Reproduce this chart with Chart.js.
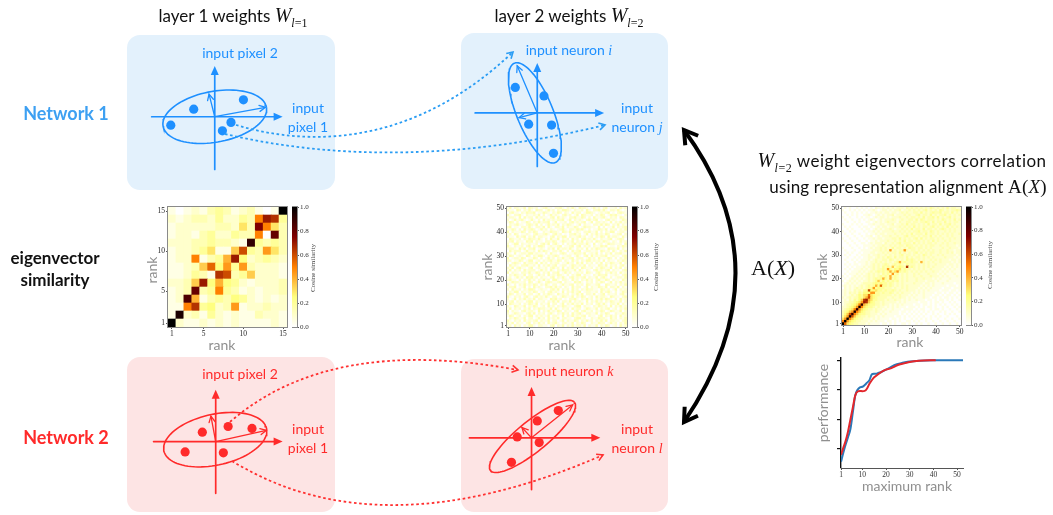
<!DOCTYPE html>
<html>
<head>
<meta charset="utf-8">
<script src="https://cdn.jsdelivr.net/npm/chart.js@4.4.1/dist/chart.umd.min.js"></script>
<style>
  body { margin: 0; background: #fff; }
  #fig { position: relative; width: 1053px; height: 515px; overflow: hidden; font-family: Lato, sans-serif; color: #111; }
  .box { position: absolute; border-radius: 13px; }
  .blue { background: #e3f1fc; }
  .red { background: #fde4e4; }
  canvas { position: absolute; }
  .t { position: absolute; transform: translate(-50%, -50%); white-space: nowrap; line-height: 1; }
  .lab { font-size: 14px; text-align: center; line-height: 19px; }
  .cb { color: #1e90ff; }
  .cr { color: #ff2a2a; }
  .m { font-family: "Liberation Serif", serif; font-style: italic; }
  .W { font-family: "Liberation Serif", serif; font-style: italic; font-size: 20px; }
  sub { font-family: "Liberation Serif", serif; font-size: 12px; vertical-align: -5px; line-height: 0; }
  .rk { font-size: 14px; color: #8f8f8f; }
  .rot { transform: translate(-50%, -50%) rotate(-90deg); }
  .cos { font-family: "Liberation Serif", serif; font-size: 7px; color: #444; }
  .net { font-weight: 700; font-size: 18px; }
</style>
</head>
<body>
<div id="fig">
  <div class="box blue" style="left:127px;top:35px;width:208px;height:155px"></div>
  <div class="box blue" style="left:461px;top:33px;width:207px;height:156px"></div>
  <div class="box red" style="left:127px;top:357px;width:208px;height:155px"></div>
  <div class="box red" style="left:461px;top:359px;width:207px;height:153px"></div>

  <canvas id="d1"></canvas>
  <canvas id="d2"></canvas>
  <canvas id="d3"></canvas>
  <canvas id="d4"></canvas>
  <canvas id="h1"></canvas>
  <canvas id="h2"></canvas>
  <canvas id="h3"></canvas>
  <canvas id="c1"></canvas>
  <canvas id="c2"></canvas>
  <canvas id="c3"></canvas>
  <canvas id="perf"></canvas>

  <svg width="1053" height="515" style="position:absolute;left:0;top:0">
    <defs>
      <marker id="hb" markerWidth="10" markerHeight="10" refX="7" refY="5" orient="auto" markerUnits="userSpaceOnUse">
        <path d="M1,1.5 L7,5 L1,8.5" fill="none" stroke="#2a9df4" stroke-width="1.6"/>
      </marker>
      <marker id="hr" markerWidth="10" markerHeight="10" refX="7" refY="5" orient="auto" markerUnits="userSpaceOnUse">
        <path d="M1,1.5 L7,5 L1,8.5" fill="none" stroke="#ff3030" stroke-width="1.6"/>
      </marker>
      <marker id="hk" markerWidth="22" markerHeight="22" refX="16" refY="11" orient="auto-start-reverse" markerUnits="userSpaceOnUse">
        <path d="M3,3 L16,11 L3,19" fill="none" stroke="#000" stroke-width="4"/>
      </marker>
    </defs>
    <path d="M236,125 C320,150 420,140 513,52" fill="none" stroke="#2a9df4" stroke-width="1.8" stroke-dasharray="2.6 2.6" marker-end="url(#hb)"/>
    <path d="M225,134 Q400,175 605,125" fill="none" stroke="#2a9df4" stroke-width="1.8" stroke-dasharray="2.6 2.6" marker-end="url(#hb)"/>
    <path d="M230,422 Q330,335 518,370" fill="none" stroke="#ff3030" stroke-width="1.8" stroke-dasharray="2.6 2.6" marker-end="url(#hr)"/>
    <path d="M232,461 Q380,552 603,455" fill="none" stroke="#ff3030" stroke-width="1.8" stroke-dasharray="2.6 2.6" marker-end="url(#hr)"/>
    <path d="M684,130 Q787,270 684,422" fill="none" stroke="#000" stroke-width="4" marker-start="url(#hk)" marker-end="url(#hk)"/>
  </svg>

  <div class="t" style="left:233px;top:15px;font-size:17px">layer 1 weights <span class="W">W</span><sub><i>l</i>=1</sub></div>
  <div class="t" style="left:569px;top:15px;font-size:17px">layer 2 weights <span class="W">W</span><sub><i>l</i>=2</sub></div>

  <div class="t net" style="left:66px;top:113px;color:#3da0f2">Network 1</div>
  <div class="t net" style="left:66px;top:437px;color:#ff2a2a">Network 2</div>
  <div class="t" style="left:55px;top:269px;font-weight:700;font-size:17px;text-align:center;line-height:22px">eigenvector<br>similarity</div>

  <div class="t lab cb" style="left:240px;top:52px">input pixel 2</div>
  <div class="t lab cb" style="left:308px;top:117px">input<br>pixel 1</div>
  <div class="t lab cb" style="left:569px;top:50px">input neuron <span class="m">i</span></div>
  <div class="t lab cb" style="left:637px;top:117px">input<br>neuron <span class="m">j</span></div>
  <div class="t lab cr" style="left:240px;top:373px">input pixel 2</div>
  <div class="t lab cr" style="left:308px;top:438px">input<br>pixel 1</div>
  <div class="t lab cr" style="left:569px;top:371px">input neuron <span class="m">k</span></div>
  <div class="t lab cr" style="left:637px;top:438px">input<br>neuron <span class="m">l</span></div>

  <div class="t" style="left:902px;top:160px;font-size:17px;letter-spacing:0.5px"><span class="W">W</span><sub><i>l</i>=2</sub> weight eigenvectors correlation</div>
  <div class="t" style="left:908px;top:186px;font-size:17px;letter-spacing:0.15px">using representation alignment <span style="font-family:'Liberation Serif',serif;font-size:19px">A(<i>X</i>)</span></div>
  <div class="t" style="left:773px;top:268px;font-family:'Liberation Serif',serif;font-size:22px">A(<i>X</i>)</div>

  <div class="t rk" style="left:222px;top:345px">rank</div>
  <div class="t rk rot" style="left:152px;top:270px">rank</div>
  <div class="t rk" style="left:562px;top:345px">rank</div>
  <div class="t rk rot" style="left:487px;top:267px">rank</div>
  <div class="t rk" style="left:910px;top:342px">rank</div>
  <div class="t rk rot" style="left:822px;top:267px">rank</div>
  <div class="t rk rot" style="left:823px;top:403px">performance</div>
  <div class="t rk" style="left:907px;top:486px">maximum rank</div>

  <div class="t cos rot" style="left:313px;top:268px">Cosine similarity</div>
  <div class="t cos rot" style="left:656px;top:267px">Cosine similarity</div>
  <div class="t cos rot" style="left:990px;top:265px">Cosine similarity</div>
</div>

<script>
// ---- diagram data: px relative to the axis crossing, y pointing up ----
const net1L1Points = [[-46, -9], [-22, 8], [30, 18], [17, -6], [8, -15]];
const net1L1Vecs = [[53, 10], [-6, 24]];
const net1L1Ellipse = [0, 0, 55, 27, 10.7]; // cx, cy, a, b, angle
const net1L1Axes = [[-66, 71], [-56, 54]];

const net1L2Points = [[-23, 27], [7, 18], [-9, -12], [15, -13], [17, -43]];
const net1L2Vecs = [[-21, 50], [-19, -5]];
const net1L2Ellipse = [-2.5, 0, 57, 19, 112];
const net1L2Axes = [[-65, 70], [-57, 53]];

const net2L1Points = [[-32, -11], [-14, 10], [13, 16], [38, 14], [8, -12]];
const net2L1Vecs = [[53, 12], [-5, 27]];
const net2L1Ellipse = [-0.5, 2, 55, 27, 12.7];
const net2L1Axes = [[-65, 70], [-55, 55]];

const net2L2Points = [[-15, 1], [6, 18], [28, 29], [8, -5], [-21, -26]];
const net2L2Vecs = [[43, 35], [-10, 11]];
const net2L2Ellipse = [1, 1.5, 57, 16, 39.7];
const net2L2Axes = [[-65, 72], [-55, 54]];

// ---- similarity matrices: top row = highest rank; char -> parseInt(ch,36)/20 ----
const layer1Sim = [
  "10121343123101k",
  "21233242243aed4",
  "12222233263fa63",
  "12213422433a0g3",
  "2223343321i4343",
  "122346117c43963",
  "122a1348e523432",
  "11237b594932221",
  "112431dc3472221",
  "2237e5854212223",
  "123g34a43121223",
  "12h813435421212",
  "11ad45239122322",
  "1j2314212113221",
  "k21121212111121"
];

const layer2Sim = [
  "1302211303 2120123110 2231021310 3221013120 2301120312",
  "2110320213 1032201312 0213321021 1203102231 3102213101",
  "0231102132 2301132102 1320210312 2013321012 1230102321",
  "3102231021 1213020131 2102312013 0321120213 2013231102",
  "1221030312 2031211023 0312102231 1320203112 3102120321",
  "2013123101 3102031212 1223013021 2102312301 0231210132",
  "1320201132 0213122301 3011202312 1230130221 2103021312",
  "0212311023 2130201312 1302132101 3021102213 1320213021",
  "2301102213 1022130310 2213021132 0132211030 2011302123",
  "1132020312 3201312021 0123102213 2310201132 1302120213",
  "3021113202 1320021132 2103213012 1022311302 0213301221",
  "1203201121 0231123102 3120102231 2013021312 1320112302",
  "2110312302 1302211023 0213302112 3120120213 2031221031",
  "0321120213 2213102031 1302120312 0231213102 1123012320",
  "1230211032 3021102213 2013211302 1302120321 3210210312",
  "2013302112 1120231302 3102021231 2213103012 0132211203",
  "3102112023 0213320121 1230112302 3021202113 2301102132",
  "1221031302 2301210213 0312213102 1203021321 1032213021",
  "0312220131 1203132102 2131020312 3012211203 2120310213",
  "2103012213 3121102031 1023201132 2130121302 0213022311",
  "1320121032 0213310212 3201122013 1023031212 2301211023",
  "3012213201 1320201312 0213112302 2201312031 1132020213",
  "2201132013 3012021231 1320210312 0213312120 3021102132",
  "1023210312 2130312021 2201131203 1302120213 0213211302",
  "0312102231 1203021312 3012201321 2130211032 1302120231",
  "2130231102 3012112023 1203021312 0321120213 2113021302",
  "1302120312 2201312031 0213221130 3102102312 1230211023",
  "3021102213 1132021302 2301312012 1203210231 0213120312",
  "0213211302 2013120312 1321020213 3021102132 2301121023",
  "1201312032 3120211023 0213102312 1230211302 3102012213",
  "2311020213 1202131203 3102210312 0213120231 1320211032",
  "0132211203 2013102321 1230211032 3102120213 2013021312",
  "3102021312 1320213102 2013112302 1203211230 0321120213",
  "1223011302 0312102231 3120210312 2013021132 1302213021",
  "2031120213 3201211023 1302120312 0213221103 2120130212",
  "0213302112 1320120231 2103021312 3012211203 1231020132",
  "1320211302 2013021321 0312120213 1302213012 3021120231",
  "3102120231 0231213102 2013211302 1320120312 2103211023",
  "2013021312 1302211032 3120102231 0213120213 1321020312",
  "1230211023 3021120213 1302213021 2103021312 0213211302",
  "0321120213 2130211302 2013021312 1302120231 3102213021",
  "2103211302 1320120312 0213211023 3021102132 1203021312",
  "1302120213 0213221130 3102120312 2013211302 1230120213",
  "3021102312 2103021312 1320211023 0231120213 2013211302",
  "2013211023 1302120231 0213120312 3102211302 1320021132",
  "1320120213 3021211302 2103021312 1230211023 0213120312",
  "0213211302 2013120312 1302211023 3120021132 2103120213",
  "3102120312 1230211302 2013021132 0213120213 1302211023",
  "2130211023 0213120312 3102211302 1320021132 2013120213",
  "1203120213 3102211023 0213021312 2130211302 1320120312"
];

const alignedSim = [
  "0101001010 1010211212 1212221323 2323232432 3232423322",
  "1001010101 0112101221 2122312232 3232342323 2432323343",
  "0100101010 1011212122 1221232322 3324232343 3423324232",
  "0010101001 1210121212 2312223232 2342332423 2334232323",
  "1001001010 1101212212 1222322323 3232423342 4232342322",
  "0100100101 0121012122 2321232233 2424323332 3243232423",
  "0010010100 1101212123 2221322332 3323343242 3324232332",
  "1000101010 0112112212 2312232423 3232324233 2423342322",
  "0101000101 1010121221 2222323232 4232332342 3232423232",
  "0010100010 1101212122 3212232324 2332423323 2343232322",
  "1001010001 0112121222 2322323232 3342332432 3223232322",
  "0100100100 1011212212 2232232324 2333242332 3232323223",
  "0010010010 1120121222 3223223423 3232332423 2322323222",
  "1001001001 0112122122 2332423232 3424232332 3232232322",
  "0100100100 1011212223 2232324233 2332323242 3223232222",
  "0010010011 0121222132 2323423332 4232323323 2232322322",
  "0001001001 1112122322 3232332433 2323232332 2322322212",
  "1000100101 0121223232 2423323243 3233232322 2232232221",
  "0100010011 1112223232 9232339323 3232323232 2322322122",
  "0010100101 1122122323 2332423232 3423232332 2322323122",
  "0101001011 1212232232 3232342332 3232432322 3232222212",
  "0010010101 1221232324 3242332423 2332323232 2223222121",
  "0100101011 1212322332 4323232434 3232322323 2322212212",
  "0010010111 2122323232 3234834334 3328323232 2322221212",
  "0101011011 2123232343 2343432433 3232323223 2222122121",
  "0010101112 1223232434 3734543d34 3232323232 2221212121",
  "0101011121 2123233439 4354634332 3232322322 2212121211",
  "0010111212 1232343434 8469434323 2323232232 2121212111",
  "0101112121 2323232434 3934232322 3232223222 1212111211",
  "1010121212 2323234343 8343232322 3223222322 2121211121",
  "0101212121 2323434843 8343232322 2322322212 1211121111",
  "1012121212 2323473534 3434232322 2322212221 2111211111",
  "0121212123 3334545443 4323232222 3222122121 1121111011",
  "1212121232 343484b443 4323232322 2221212121 1111011101",
  "0212123232 3449454433 3232232322 2212121211 1101110111",
  "1212132324 4c55644343 3432322322 2121212111 1011101101",
  "1213232435 5599443433 4323232221 2121211110 1101011010",
  "1212323546 6b65443333 3232322212 1211211101 1010110101",
  "2123233546 8c65433332 2322322121 2111211011 0101101010",
  "121324357d e864433323 2232212121 1211101101 0110101001",
  "122334569e d754332322 2221212111 1101110101 1010010100",
  "1233456ai8 6544332322 1212121111 0110110101 0101001010",
  "2234569ja6 5443232212 1212111011 1010101101 0010100101",
  "23456ai965 4332322121 1211101111 0101100101 1010010010",
  "34579ja754 3322321211 2111011010 1010101010 0101001001",
  "357cia7544 3322212121 1111010101 0101010010 1001010100",
  "469jc75433 2322121211 1101101010 1010100101 0100100010",
  "69ka754332 2212121111 0110101001 0101010100 1001001001",
  "ak96543322 2121211101 1010100110 1010010010 0100100100",
  "kb65433222 1211110110 1010011010 0101001001 0010010010"
];

const rankTicks15 = [1, 5, 10, 15];
const rankTicks50 = [1, 10, 20, 30, 40, 50];
const colorbarTicks = [0, 0.2, 0.4, 0.6, 0.8, 1.0];

// ---- performance vs maximum rank ----
const redRank = [1, 2, 3, 4, 5, 6, 7, 8, 9, 10, 11, 12, 13, 14, 15, 16, 18, 20, 22, 24, 26, 28, 30, 34, 41];
const redPerf = [0.2, 0.26, 0.32, 0.4, 0.5, 0.6, 0.7, 0.735, 0.74, 0.738, 0.74, 0.76, 0.8, 0.83, 0.855, 0.87, 0.9, 0.92, 0.93, 0.95, 0.965, 0.975, 0.985, 0.995, 1.0];
const blueRank = [1, 2, 3, 4, 5, 6, 7, 8, 9, 10, 11, 12, 13, 14, 15, 16, 18, 20, 22, 24, 26, 28, 30, 34, 40, 46, 52.5];
const bluePerf = [0.14, 0.22, 0.29, 0.35, 0.42, 0.56, 0.7, 0.75, 0.77, 0.775, 0.79, 0.81, 0.83, 0.88, 0.885, 0.886, 0.9, 0.92, 0.94, 0.962, 0.973, 0.982, 0.989, 0.996, 1.0, 1.0, 1.0];
const perfTicksY = [0.25, 0.5, 0.75, 1.0];

const BLUE = '#1e90ff';
const RED = '#ff2a2a';
const base = { responsive: false, animation: false, events: [], plugins: { legend: { display: false }, tooltip: { enabled: false } } };

function cmap(v) { // afmhot_r
  const x = 1 - Math.max(0, Math.min(1, v));
  const c = t => Math.round(255 * Math.max(0, Math.min(1, t)));
  return `rgb(${c(2 * x)},${c(2 * x - 0.5)},${c(2 * x - 1)})`;
}

function place(id, left, top, w, h) {
  const cv = document.getElementById(id);
  cv.width = w; cv.height = h;
  cv.style.left = left + 'px'; cv.style.top = top + 'px';
  return cv;
}

function drawArrow(ctx, a, b, w, len, half, open) {
  const ang = Math.atan2(b[1] - a[1], b[0] - a[0]);
  const cos = Math.cos(ang), sin = Math.sin(ang);
  ctx.lineWidth = w;
  ctx.beginPath();
  ctx.moveTo(a[0], a[1]);
  ctx.lineTo(open ? b[0] : b[0] - cos * len * 0.6, open ? b[1] : b[1] - sin * len * 0.6);
  ctx.stroke();
  ctx.beginPath();
  ctx.moveTo(b[0] - len * cos + half * sin, b[1] - len * sin - half * cos);
  ctx.lineTo(b[0], b[1]);
  ctx.lineTo(b[0] - len * cos - half * sin, b[1] - len * sin + half * cos);
  if (open) ctx.stroke(); else { ctx.closePath(); ctx.fill(); }
}

function ellipsePath(e) {
  const [cx, cy, a, b, deg] = e;
  const p = deg * Math.PI / 180, pts = [];
  for (let t = 0; t <= 360; t += 4) {
    const r = t * Math.PI / 180;
    pts.push({ x: cx + a * Math.cos(r) * Math.cos(p) - b * Math.sin(r) * Math.sin(p),
               y: cy + a * Math.cos(r) * Math.sin(p) + b * Math.sin(r) * Math.cos(p) });
  }
  return pts;
}

function diagram(id, box, origin, points, vecs, ell, axes, color) {
  const [bl, bt, bw, bh] = box;
  const cv = place(id, bl, bt, bw, bh);
  const xmin = bl - origin[0], ymax = origin[1] - bt;
  const arrows = {
    id: 'arrows',
    beforeDatasetsDraw(chart) {
      const { ctx, scales: { x, y } } = chart;
      const px = p => [x.getPixelForValue(p[0]), y.getPixelForValue(p[1])];
      ctx.save();
      ctx.strokeStyle = color; ctx.fillStyle = color; ctx.lineCap = 'round';
      drawArrow(ctx, px([axes[0][0], 0]), px([axes[0][1], 0]), 1.7, 9, 4, false);
      drawArrow(ctx, px([0, axes[1][0]]), px([0, axes[1][1]]), 1.7, 9, 4, false);
      vecs.forEach(v => drawArrow(ctx, px([0, 0]), px(v), 1.3, 6, 3, true));
      ctx.restore();
    }
  };
  new Chart(cv, {
    type: 'scatter',
    data: {
      datasets: [
        { data: ellipsePath(ell), showLine: true, pointRadius: 0, borderColor: color, borderWidth: 1.6, tension: 0 },
        { data: points.map(([x, y]) => ({ x, y })), pointRadius: 4.6, backgroundColor: color, borderWidth: 0 }
      ]
    },
    options: {
      ...base,
      scales: {
        x: { display: false, min: xmin, max: xmin + bw },
        y: { display: false, min: ymax - bh, max: ymax }
      }
    },
    plugins: [arrows]
  });
}

const framePlugin = {
  id: 'frame',
  afterDraw(chart) {
    const { ctx, chartArea: a } = chart;
    ctx.save();
    ctx.strokeStyle = '#8a8a8a'; ctx.lineWidth = 1;
    ctx.strokeRect(a.left - 0.5, a.top - 0.5, a.right - a.left + 1, a.bottom - a.top + 1);
    ctx.restore();
  }
};

function cellsFrom(rows) {
  const n = rows.length, out = [];
  rows.forEach((row, i) => {
    [...row.replace(/ /g, '')].forEach((ch, j) => {
      out.push({ x: j + 1, y: n - i, v: Math.min(1, parseInt(ch, 36) / 20) });
    });
  });
  return out;
}

function rankAxis(n, ticks, horiz, size) {
  return {
    type: 'linear', min: 0.5, max: n + 0.5,
    afterBuildTicks: s => { s.ticks = ticks.map(v => ({ value: v })); },
    afterFit: s => { if (horiz) s.height = size; else s.width = size; },
    ticks: { font: { family: 'Liberation Serif', size: 7.5 }, color: '#222', padding: 1, maxRotation: 0, autoSkip: false },
    grid: { drawOnChartArea: false, tickLength: 2, color: '#555' },
    border: { color: '#8a8a8a' }
  };
}

function heatmap(id, plot, rows, ticks) {
  const [L, T, W, H] = plot;
  const n = rows.length;
  const padT = 6, padR = 8, yw = 20, xh = 13;
  const cv = place(id, L - yw, T - padT, yw + W + padR, padT + H + xh);
  new Chart(cv, {
    type: 'scatter',
    data: {
      datasets: [{
        data: cellsFrom(rows),
        pointStyle: 'rect',
        pointRadius: c => {
          const a = c.chart.chartArea;
          return a ? ((a.right - a.left) / n / 2 + 0.35) / Math.SQRT1_2 : 2;
        },
        backgroundColor: c => cmap(c.raw ? c.raw.v : 0),
        borderWidth: 0
      }]
    },
    options: {
      ...base,
      layout: { padding: { top: padT, right: padR } },
      scales: { x: rankAxis(n, ticks, true, xh), y: rankAxis(n, ticks, false, yw) }
    },
    plugins: [framePlugin]
  });
}

function colorbar(id, plot) {
  const [L, T, W, H] = plot;
  const padV = 6, axisW = 20, barW = 5;
  const cv = place(id, L + W + 5, T - padV, barW + axisW, H + 2 * padV);
  new Chart(cv, {
    type: 'bar',
    data: {
      labels: [''],
      datasets: [{
        data: [1], barPercentage: 1, categoryPercentage: 1, borderWidth: 0,
        backgroundColor: c => {
          const a = c.chart.chartArea;
          if (!a) return cmap(0.5);
          const g = c.chart.ctx.createLinearGradient(0, a.bottom, 0, a.top);
          for (let i = 0; i <= 20; i++) g.addColorStop(i / 20, cmap(i / 20));
          return g;
        }
      }]
    },
    options: {
      ...base,
      layout: { padding: { top: padV, bottom: padV } },
      scales: {
        x: { display: false },
        y: {
          position: 'right', min: 0, max: 1,
          afterBuildTicks: s => { s.ticks = colorbarTicks.map(v => ({ value: v })); },
          afterFit: s => { s.width = axisW; },
          ticks: { callback: v => v.toFixed(1), font: { family: 'Liberation Serif', size: 7 }, color: '#333', padding: 1 },
          grid: { drawOnChartArea: false, tickLength: 2, color: '#555' },
          border: { color: '#8a8a8a' }
        }
      }
    },
    plugins: [framePlugin]
  });
}

diagram('d1', [127, 35, 208, 155], [214, 117], net1L1Points, net1L1Vecs, net1L1Ellipse, net1L1Axes, BLUE);
diagram('d2', [461, 33, 207, 156], [536, 113], net1L2Points, net1L2Vecs, net1L2Ellipse, net1L2Axes, BLUE);
diagram('d3', [127, 357, 208, 155], [215, 442], net2L1Points, net2L1Vecs, net2L1Ellipse, net2L1Axes, RED);
diagram('d4', [461, 359, 207, 153], [530, 438], net2L2Points, net2L2Vecs, net2L2Ellipse, net2L2Axes, RED);

const plot1 = [168, 207, 119, 120], plot2 = [507, 207, 120, 120], plot3 = [842, 207, 119, 118];
heatmap('h1', plot1, layer1Sim, rankTicks15);
heatmap('h2', plot2, layer2Sim, rankTicks50);
heatmap('h3', plot3, alignedSim, rankTicks50);
colorbar('c1', plot1);
colorbar('c2', plot2);
colorbar('c3', plot3);

// performance plot: area 841..963 x 353..468
const pv = place('perf', 841 - 16, 353 - 6, 16 + 122 + 8, 6 + 115 + 14);
new Chart(pv, {
  type: 'scatter',
  data: {
    datasets: [
      { data: redRank.map((x, i) => ({ x, y: redPerf[i] })), showLine: true, pointRadius: 0, borderColor: '#e3272c', borderWidth: 2, cubicInterpolationMode: 'monotone' },
      { data: blueRank.map((x, i) => ({ x, y: bluePerf[i] })), showLine: true, pointRadius: 0, borderColor: '#2a78b8', borderWidth: 2, cubicInterpolationMode: 'monotone' }
    ]
  },
  options: {
    ...base,
    layout: { padding: { top: 6, right: 8 } },
    scales: {
      x: {
        min: 1, max: 52.5,
        afterBuildTicks: s => { s.ticks = rankTicks50.map(v => ({ value: v })); },
        afterFit: s => { s.height = 14; },
        ticks: { font: { family: 'Liberation Serif', size: 7.5 }, color: '#333', padding: 1, maxRotation: 0, autoSkip: false },
        grid: { drawOnChartArea: false, tickLength: 2, color: '#555' },
        border: { color: '#555', width: 1 }
      },
      y: {
        min: 0.088, max: 1.025,
        afterBuildTicks: s => { s.ticks = perfTicksY.map(v => ({ value: v })); },
        afterFit: s => { s.width = 16; },
        ticks: { callback: () => '' },
        grid: { drawOnChartArea: false, tickLength: 4, color: '#111', lineWidth: 1.2 },
        border: { color: '#111', width: 1.4 }
      }
    }
  }
});
</script>
</body>
</html>
